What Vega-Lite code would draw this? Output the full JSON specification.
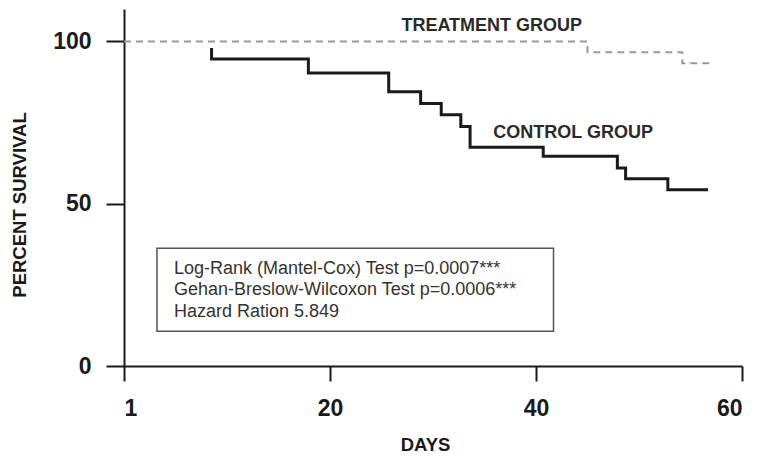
{
  "$schema": "https://vega.github.io/schema/vega-lite/v6.json",
  "width": 618,
  "height": 357,
  "autosize": "none",
  "padding": {"left": 124, "top": 9, "right": 15, "bottom": 90},
  "background": "white",
  "config": {
    "view": {"stroke": null},
    "font": "Liberation Sans",
    "axis": {
      "grid": false,
      "domainColor": "#1a1a1a",
      "domainWidth": 2,
      "tickColor": "#1a1a1a",
      "tickWidth": 2,
      "labelFont": "Liberation Sans",
      "labelFontWeight": "bold",
      "labelFontSize": 23,
      "labelColor": "#1a1a1a",
      "titleFont": "Liberation Sans",
      "titleFontWeight": "bold",
      "titleFontSize": 18.5,
      "titleColor": "#1a1a1a"
    }
  },
  "datasets": {
    "control": [
      {"day": 8.5, "survival": 98},
      {"day": 8.5, "survival": 94.6},
      {"day": 17.9, "survival": 90.3},
      {"day": 25.7, "survival": 84.5},
      {"day": 28.8, "survival": 80.9},
      {"day": 30.8, "survival": 77.4},
      {"day": 32.7, "survival": 73.8},
      {"day": 33.6, "survival": 67.4},
      {"day": 40.7, "survival": 64.6},
      {"day": 47.9, "survival": 61.0},
      {"day": 48.7, "survival": 57.7},
      {"day": 52.8, "survival": 54.3},
      {"day": 56.7, "survival": 54.3}
    ],
    "treatment": [
      {"day": 0, "survival": 100},
      {"day": 45, "survival": 96.7},
      {"day": 54.2, "survival": 93.3},
      {"day": 57.1, "survival": 93.3}
    ],
    "labels": [
      {"day": 35.7, "survival": 104.8, "text": "TREATMENT GROUP"},
      {"day": 43.6, "survival": 71.7, "text": "CONTROL GROUP"}
    ],
    "box": [
      {"x1": 3.2, "x2": 41.7, "y1": 10.7, "y2": 36.3}
    ],
    "stats": [
      {"day": 4.85, "survival": 30.0, "text": "Log-Rank (Mantel-Cox) Test p=0.0007***"},
      {"day": 4.85, "survival": 23.3, "text": "Gehan-Breslow-Wilcoxon Test p=0.0006***"},
      {"day": 4.85, "survival": 16.6, "text": "Hazard Ration 5.849"}
    ]
  },
  "layer": [
    {
      "data": {"name": "box"},
      "mark": {"type": "rect", "fill": "white", "stroke": "#555555", "strokeWidth": 1.5},
      "encoding": {
        "x": {"field": "x1", "type": "quantitative", "scale": {"domain": [0, 60], "nice": false}},
        "x2": {"field": "x2"},
        "y": {"field": "y1", "type": "quantitative", "scale": {"domain": [0, 110], "nice": false}},
        "y2": {"field": "y2"}
      }
    },
    {
      "data": {"name": "treatment"},
      "mark": {"type": "line", "interpolate": "step-after", "color": "#9a9a9a", "strokeWidth": 2, "strokeDash": [7, 5]},
      "encoding": {
        "x": {"field": "day", "type": "quantitative", "scale": {"domain": [0, 60], "nice": false},
          "axis": {"values": [0, 20, 40, 60], "labelExpr": "datum.value == 0 ? '1' : datum.label", "tickSize": 15, "labelPadding": 16, "title": "DAYS", "titleX": 301, "titleY": 78, "titleBaseline": "middle", "titleAnchor": null}},
        "y": {"field": "survival", "type": "quantitative", "scale": {"domain": [0, 110], "nice": false},
          "axis": {"values": [0, 50, 100], "tickSize": 18, "labelPadding": 15, "title": "PERCENT SURVIVAL", "titleX": -104.5, "titleY": 195.5, "titleBaseline": "middle", "titleAlign": "center"}},
        "order": {"value": null}
      }
    },
    {
      "data": {"name": "control"},
      "mark": {"type": "line", "interpolate": "step-after", "color": "#1a1a1a", "strokeWidth": 3},
      "encoding": {
        "x": {"field": "day", "type": "quantitative"},
        "y": {"field": "survival", "type": "quantitative"},
        "order": {"value": null}
      }
    },
    {
      "data": {"name": "labels"},
      "mark": {"type": "text", "font": "Liberation Sans", "fontWeight": "bold", "fontSize": 18, "color": "#2a2a2a", "align": "center", "baseline": "middle"},
      "encoding": {
        "x": {"field": "day", "type": "quantitative"},
        "y": {"field": "survival", "type": "quantitative"},
        "text": {"field": "text"}
      }
    },
    {
      "data": {"name": "stats"},
      "mark": {"type": "text", "font": "Liberation Sans", "fontSize": 18, "color": "#333333", "align": "left", "baseline": "middle"},
      "encoding": {
        "x": {"field": "day", "type": "quantitative"},
        "y": {"field": "survival", "type": "quantitative"},
        "text": {"field": "text"}
      }
    }
  ]
}
